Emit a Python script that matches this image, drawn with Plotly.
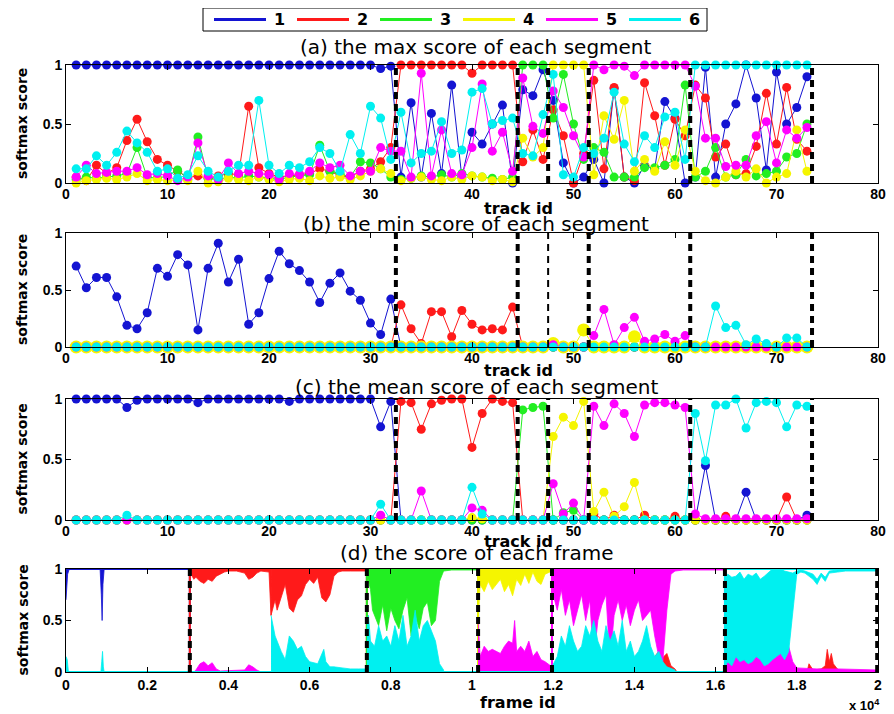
import plotly.graph_objects as go

# ---------------- data ----------------
COLORS = ['#1414d2', '#ff1a1a', '#22ee22', '#f5f500', '#ff00ff', '#00f0f0']
NAMES = ['1', '2', '3', '4', '5', '6']
TRACKS = list(range(1, 74))
TRACK_BOUNDS = [32.5, 44.5, 47.5, 51.5, 61.5, 73.5]
FRAME_BOUNDS = [0.305, 0.741, 1.015, 1.197, 1.623, 1.998]   # x 10^4
SEG_START = [0.0, 0.305, 0.741, 1.015, 1.197, 1.623]
SEG_END = [0.305, 0.741, 1.015, 1.197, 1.623, 1.998]

# (a) max score of each segment
MAX_1 = [1.0]*30 + [0.97, 0.99,
         0.05, 0.68, 0.05, 0.59, 0.08, 0.83, 0.05, 0.43, 0.33, 0.5, 0.66, 0.0,
         0.79, 0.74, 0.96, 0.7, 0.17, 0.0, 0.05,
         0.2, 0.0, 0.8, 0.05, 0.0, 0.15, 0.12, 0.69, 0.55, 0.0,
         0.05, 0.98, 0.05, 0.5, 0.67, 1.0, 0.72, 0.11, 0.94, 0.5, 0.64, 0.9]
MAX_2 = [0.05, 0.02, 0.15, 0.08, 0.13, 0.36, 0.54, 0.35, 0.2, 0.15, 0.1, 0.05, 0.06, 0.04, 0.06, 0.08,
         0.07, 0.65, 0.13, 0.08, 0.05, 0.06, 0.07, 0.08, 0.12, 0.1, 0.06, 0.05, 0.1, 0.12, 0.18, 0.3,
         1, 1, 1, 1, 1, 1, 1, 0.93, 1, 1, 1, 1,
         0.18, 0.45, 0.2, 0.62, 0.4, 0.0, 0.25,
         0.87, 0.12, 0.81, 0.05, 0.02, 0.85, 0.57, 0.15, 0.54, 0.4,
         0.83, 0.72, 0.22, 0.33, 0.07, 0.08, 0.31, 0.76, 0.33, 0.81, 0.37, 0.27]
MAX_3 = [0.03, 0.05, 0.04, 0.05, 0.06, 0.08, 0.3, 0.05, 0.04, 0.06, 0.11, 0.03, 0.39, 0.04, 0.03, 0.05,
         0.04, 0.06, 0.05, 0.04, 0.03, 0.05, 0.06, 0.07, 0.32, 0.1, 0.08, 0.05, 0.18, 0.17, 0.12, 0.05,
         0.03, 0.04, 0.06, 0.05, 0.07, 0.05, 0.08, 0.06, 0.05, 0.04, 0.03, 0.05,
         1, 1, 1, 0.55, 0.92, 0.5, 0.2,
         0.3, 0.26, 0.05, 0.05, 0.05, 0.13, 0.13, 0.15, 0.2, 0.83,
         0.05, 0.1, 0.3, 0.05, 0.07, 0.2, 0.06, 0.08, 0.1, 0.22, 0.25, 0.5]
MAX_4 = [0.0, 0.02, 0.03, 0.04, 0.03, 0.05, 0.08, 0.02, 0.03, 0.02, 0.03, 0.02, 0.1, 0.0, 0.01, 0.04,
         0.03, 0.02, 0.05, 0.03, 0.01, 0.03, 0.04, 0.02, 0.06, 0.04, 0.05, 0.03, 0.06, 0.1, 0.12, 0.08,
         0.02, 0.04, 0.05, 0.03, 0.02, 0.05, 0.03, 0.06, 0.05, 0.02, 0.03, 0.01,
         0.38, 0.22, 0.3, 1, 1, 1, 1,
         0.07, 0.57, 0.37, 0.7, 0.1, 0.2, 0.1, 0.35, 0.15, 0.45,
         0.1, 0.02, 0.0, 0.05, 0.1, 0.05, 0.12, 0.0, 0.05, 0.08, 0.45, 0.1]
MAX_5 = [0.05, 0.15, 0.08, 0.09, 0.1, 0.1, 0.13, 0.07, 0.08, 0.06, 0.02, 0.05, 0.34, 0.06, 0.03, 0.17,
         0.08, 0.1, 0.08, 0.07, 0.03, 0.08, 0.07, 0.1, 0.17, 0.13, 0.15, 0.06, 0.1, 0.1, 0.3, 0.27,
         0.27, 0.05, 0.93, 0.06, 0.45, 0.08, 0.07, 0.3, 0.84, 0.27, 0.43, 0.1,
         0.89, 0.48, 0.42, 0.78, 0.64, 0.4, 0.22,
         1, 0.96, 1, 0.99, 0.91, 1, 1, 1, 1, 1,
         0.82, 0.38, 0.38, 0.14, 0.15, 0.15, 0.4, 0.52, 0.17, 0.45, 0.38, 0.47]
MAX_6 = [0.12, 0.12, 0.23, 0.15, 0.26, 0.44, 0.34, 0.26, 0.1, 0.12, 0.04, 0.07, 0.23, 0.1, 0.05, 0.1,
         0.15, 0.15, 0.7, 0.15, 0.08, 0.15, 0.13, 0.18, 0.3, 0.25, 0.1, 0.41, 0.25, 0.65, 0.55, 0.2,
         0.6, 0.17, 0.25, 0.27, 0.52, 0.25, 0.28, 0.77, 0.8, 0.5, 0.53, 0.55,
         0.25, 0.23, 0.58, 0.92, 0.07, 0.05, 0.3,
         0.25, 0.38, 0.77, 0.33, 0.18, 0.4, 0.3, 0.56, 0.6, 0.2,
         1, 1, 1, 1, 1, 1, 1, 1, 1, 1, 1, 1]

# (b) min score of each segment
MIN_1 = [0.71, 0.52, 0.61, 0.61, 0.44, 0.19, 0.16, 0.3, 0.69, 0.62, 0.81, 0.72, 0.15, 0.69, 0.91, 0.57,
         0.77, 0.2, 0.3, 0.6, 0.84, 0.73, 0.67, 0.57, 0.39, 0.56, 0.65, 0.49, 0.41, 0.21, 0.11, 0.42] + [0.0]*41
MIN_2 = [0.0]*32 + [0.37, 0.16, 0.03, 0.31, 0.31, 0.09, 0.32, 0.2, 0.15, 0.16, 0.15, 0.35] + [0.0]*29
MIN_3 = [0.0]*73
MIN_4 = [0.0]*47 + [0.03, 0.0, 0.0, 0.15, 0.0, 0.0, 0.0, 0.0, 0.09] + [0.0]*17
MIN_5 = [0.0]*47 + [0.02, 0.0, 0.0, 0.0, 0.1, 0.33, 0.02, 0.17, 0.26, 0.05, 0.07, 0.11, 0.05, 0.1] + [0.0]*12
MIN_6 = [0.0]*63 + [0.36, 0.17, 0.19, 0.02, 0.07, 0.03, 0.0, 0.08, 0.08, 0.0]

# (c) mean score of each segment
MEAN_1 = [1, 1, 1, 1, 1, 0.93, 0.99, 1, 1, 1, 1, 1, 0.97, 1, 1, 1, 1, 1, 1, 1, 1, 0.98, 1, 1, 1, 1,
          1, 1, 1, 1, 0.77, 0.98] + [0.0]*30 + [0.45, 0.0, 0.0, 0.0, 0.23, 0.0, 0.0, 0.0, 0.0, 0.0, 0.04]
MEAN_2 = [0.0]*32 + [0.98, 0.97, 0.75, 0.96, 0.99, 1, 1, 0.6, 0.88, 1, 0.98, 0.97] + \
         [0.0]*7 + [0.05, 0.0, 0.04, 0.0, 0.0, 0.04, 0.0, 0.0, 0.03, 0.0, 0.0, 0.0, 0.0, 0.03,
                    0.0, 0.0, 0.0, 0.0, 0.0, 0.19, 0.0, 0.0]
MEAN_3 = [0.0]*44 + [0.91, 0.93, 0.94, 0.0, 0.06, 0.08] + [0.0]*23
MEAN_4 = [0.0]*39 + [0.02, 0.01] + [0.0]*6 + [0.69, 0.85, 0.78, 0.98, 0.07, 0.23, 0.03, 0.11, 0.31] + [0.0]*17
MEAN_5 = [0.0]*30 + [0.04, 0.0, 0.0, 0.0, 0.24, 0.0, 0.0, 0.0, 0.0, 0.1, 0.08, 0.0, 0.0, 0.0,
                     0.0, 0.0, 0.0, 0.3, 0.05, 0.14, 0.0,
                     0.94, 0.78, 0.96, 0.88, 0.69, 0.95, 0.97, 0.97, 0.95, 0.93,
                     0.05, 0.01, 0.01, 0.01, 0.01, 0.01, 0.01, 0.01, 0.01, 0.01, 0.01, 0.01]
MEAN_6 = [0.0]*5 + [0.04] + [0.0]*24 + [0.13, 0.0] + [0.0]*7 + [0.27, 0.05] + [0.0]*20 + \
         [0.88, 0.49, 0.95, 0.95, 1.0, 0.76, 0.97, 0.98, 0.97, 0.77, 0.95, 0.94]

# (d) frame-level score envelopes (frame id in units of 10^4)
# "top" bands: series fills from LO up to 1 ; "bottom" bands: fills from 0 up to HI
D1_TOP_X = [0.0, 0.004, 0.008, 0.084, 0.087, 0.089, 0.091, 0.094]
D1_TOP_LO = [0.7, 0.95, 1.0, 1.0, 0.75, 0.5, 0.85, 1.0]

D2_TOP_A_X = [0.305, 0.315, 0.32, 0.33, 0.34, 0.35, 0.36, 0.37, 0.38, 0.39, 0.40, 0.42, 0.44, 0.45,
              0.46, 0.47, 0.48, 0.50, 0.505]
D2_TOP_A_LO = [0.97, 0.9, 0.92, 0.88, 0.86, 0.9, 0.88, 0.93, 0.95, 0.97, 0.98, 0.98, 0.96, 0.9,
               0.92, 0.96, 0.98, 0.97, 0.55]
D2_TOP_B_X = [0.505, 0.51, 0.515, 0.52, 0.53, 0.54, 0.55, 0.56, 0.57, 0.58, 0.59, 0.60, 0.61, 0.62,
              0.63, 0.64, 0.65, 0.66, 0.67, 0.68, 0.70, 0.72, 0.741]
D2_TOP_B_LO = [0.55, 0.62, 0.7, 0.6, 0.72, 0.85, 0.62, 0.58, 0.7, 0.74, 0.85, 0.9, 0.86, 0.92,
               0.72, 0.68, 0.75, 0.93, 0.97, 0.98, 0.98, 0.98, 0.98]
D2_BOT_A_X = [1.435, 1.44, 1.45, 1.46, 1.465, 1.47, 1.48, 1.49, 1.50, 1.505]
D2_BOT_A_HI = [0.0, 0.05, 0.15, 0.2, 0.1, 0.14, 0.18, 0.06, 0.03, 0.0]
D2_BOT_B_X = [1.825, 1.83, 1.84, 1.86, 1.87, 1.875, 1.88, 1.885, 1.89, 1.90, 1.91]
D2_BOT_B_HI = [0.0, 0.08, 0.02, 0.03, 0.06, 0.22, 0.1, 0.18, 0.08, 0.03, 0.0]

D3_TOP_X = [0.741, 0.75, 0.755, 0.76, 0.77, 0.78, 0.79, 0.80, 0.81, 0.82, 0.83, 0.84, 0.85, 0.86,
            0.87, 0.88, 0.89, 0.90, 0.91, 0.92, 0.93, 0.95, 1.015]
D3_TOP_LO = [0.95, 0.8, 0.6, 0.55, 0.45, 0.65, 0.4, 0.62, 0.5, 0.42, 0.6, 0.72, 0.35, 0.55,
             0.42, 0.62, 0.68, 0.45, 0.5, 0.88, 0.98, 0.99, 0.99]

D4_TOP_X = [1.015, 1.02, 1.03, 1.04, 1.05, 1.06, 1.07, 1.08, 1.09, 1.10, 1.11, 1.12, 1.13, 1.14,
            1.15, 1.16, 1.17, 1.18, 1.197]
D4_TOP_LO = [0.5, 0.85, 0.78, 0.88, 0.8, 0.85, 0.9, 0.78, 0.85, 0.74, 0.9, 0.84, 0.95, 0.86,
             0.97, 0.88, 0.85, 0.95, 0.98]
D4_BOT_X = [0.775, 0.78, 0.785, 0.79, 0.80]
D4_BOT_HI = [0.0, 0.15, 0.08, 0.12, 0.0]

D5_BOT_A_X = [0.315, 0.32, 0.33, 0.34, 0.35, 0.36, 0.37, 0.38, 0.44, 0.45, 0.46, 0.47, 0.48]
D5_BOT_A_HI = [0.0, 0.02, 0.08, 0.1, 0.06, 0.09, 0.03, 0.01, 0.02, 0.07, 0.05, 0.02, 0.0]
D5_BOT_B_X = [1.015, 1.02, 1.03, 1.04, 1.05, 1.06, 1.07, 1.08, 1.09, 1.10, 1.105, 1.11, 1.12, 1.13,
              1.14, 1.15, 1.16, 1.17, 1.18, 1.197]
D5_BOT_B_HI = [0.5, 0.15, 0.25, 0.2, 0.22, 0.2, 0.18, 0.25, 0.3, 0.28, 0.5, 0.2, 0.25, 0.2,
               0.3, 0.15, 0.2, 0.12, 0.1, 0.05]
D5_TOP_X = [1.197, 1.20, 1.21, 1.22, 1.23, 1.24, 1.25, 1.26, 1.27, 1.28, 1.29, 1.30, 1.31, 1.32,
            1.33, 1.34, 1.35, 1.36, 1.37, 1.38, 1.39, 1.40, 1.41, 1.42, 1.43, 1.44, 1.45, 1.46,
            1.47, 1.48, 1.49, 1.50, 1.52, 1.623]
D5_TOP_LO = [0.97, 0.75, 0.6, 0.8, 0.55, 0.7, 0.45, 0.6, 0.75, 0.5, 0.7, 0.12, 0.5, 0.65,
             0.75, 0.1, 0.55, 0.7, 0.5, 0.65, 0.45, 0.6, 0.7, 0.5, 0.55, 0.6, 0.35, 0.15,
             0.1, 0.6, 0.95, 0.98, 0.99, 0.99]
D5_BOT_C_X = [1.623, 1.63, 1.64, 1.65, 1.66, 1.67, 1.68, 1.69, 1.70, 1.71, 1.72, 1.73, 1.74, 1.75,
              1.76, 1.77, 1.78, 1.79, 1.80, 1.85, 1.90, 1.998]
D5_BOT_C_HI = [0.2, 0.25, 0.12, 0.3, 0.22, 0.15, 0.18, 0.12, 0.2, 0.25, 0.15, 0.1, 0.18, 0.2,
               0.28, 0.22, 0.25, 0.1, 0.04, 0.03, 0.03, 0.02]

D6_BOT_A_X = [0.0, 0.003, 0.006, 0.086, 0.088, 0.09, 0.092, 0.094]
D6_BOT_A_HI = [0.15, 0.12, 0.0, 0.0, 0.1, 0.2, 0.05, 0.0]
D6_BOT_B_X = [0.505, 0.51, 0.515, 0.52, 0.53, 0.54, 0.55, 0.56, 0.57, 0.58, 0.59, 0.60, 0.62,
              0.635, 0.64, 0.65, 0.66, 0.68, 0.70, 0.72, 0.741]
D6_BOT_B_HI = [0.55, 0.45, 0.35, 0.3, 0.2, 0.12, 0.35, 0.3, 0.22, 0.25, 0.15, 0.1, 0.08,
               0.22, 0.1, 0.05, 0.05, 0.04, 0.03, 0.03, 0.03]
D6_BOT_C_X = [0.741, 0.745, 0.75, 0.76, 0.77, 0.78, 0.79, 0.80, 0.81, 0.82, 0.83, 0.84, 0.85,
              0.86, 0.87, 0.88, 0.89, 0.90, 0.91, 0.92, 0.93]
D6_BOT_C_HI = [0.5, 0.55, 0.3, 0.25, 0.45, 0.3, 0.35, 0.25, 0.45, 0.3, 0.55, 0.25, 0.35,
               0.6, 0.3, 0.45, 0.5, 0.4, 0.3, 0.08, 0.02]
D6_BOT_D_X = [1.197, 1.21, 1.22, 1.23, 1.24, 1.25, 1.26, 1.27, 1.28, 1.29, 1.30, 1.31, 1.32, 1.33,
              1.34, 1.35, 1.36, 1.37, 1.38, 1.39, 1.40, 1.41, 1.42, 1.43, 1.44, 1.45, 1.46, 1.47,
              1.48, 1.50]
D6_BOT_D_HI = [0.05, 0.15, 0.35, 0.25, 0.45, 0.3, 0.2, 0.25, 0.45, 0.35, 0.5, 0.3, 0.2, 0.45,
               0.3, 0.4, 0.25, 0.5, 0.2, 0.3, 0.15, 0.2, 0.3, 0.45, 0.25, 0.15, 0.2, 0.1,
               0.05, 0.02]
D6_MID_X = [1.623, 1.63, 1.64, 1.65, 1.66, 1.67, 1.68, 1.69, 1.70, 1.71, 1.72, 1.73, 1.74, 1.75,
            1.76, 1.77, 1.78, 1.79, 1.80, 1.81, 1.82, 1.84, 1.85, 1.86, 1.87, 1.88, 1.90, 1.92,
            1.95, 1.998]
D6_MID_LO = [0.05, 0.1, 0.06, 0.15, 0.1, 0.12, 0.08, 0.1, 0.15, 0.12, 0.06, 0.08, 0.12, 0.15,
             0.18, 0.12, 0.2, 0.55, 0.95, 0.97, 0.96, 0.9, 0.85, 0.93, 0.88, 0.96, 0.97, 0.98,
             0.98, 0.98]
D6_MID_HI = [0.9, 0.95, 0.92, 0.93, 0.97, 0.9, 0.95, 0.93, 0.96, 0.9, 0.93, 0.97, 1, 1,
             1, 0.98, 0.97, 0.96, 0.98, 0.99, 0.98, 0.95, 0.9, 0.96, 0.92, 0.98, 0.99, 1,
             1, 1]

MAX_SERIES = [MAX_1, MAX_2, MAX_3, MAX_4, MAX_5, MAX_6]
MIN_SERIES = [MIN_1, MIN_2, MIN_3, MIN_4, MIN_5, MIN_6]
MEAN_SERIES = [MEAN_1, MEAN_2, MEAN_3, MEAN_4, MEAN_5, MEAN_6]

TOP_BANDS = {0: [(D1_TOP_X, D1_TOP_LO)],
             1: [(D2_TOP_A_X, D2_TOP_A_LO), (D2_TOP_B_X, D2_TOP_B_LO)],
             2: [(D3_TOP_X, D3_TOP_LO)],
             3: [(D4_TOP_X, D4_TOP_LO)],
             4: [(D5_TOP_X, D5_TOP_LO)],
             5: []}
BOT_BANDS = {0: [],
             1: [(D2_BOT_A_X, D2_BOT_A_HI), (D2_BOT_B_X, D2_BOT_B_HI)],
             2: [],
             3: [(D4_BOT_X, D4_BOT_HI)],
             4: [(D5_BOT_A_X, D5_BOT_A_HI), (D5_BOT_B_X, D5_BOT_B_HI), (D5_BOT_C_X, D5_BOT_C_HI)],
             5: [(D6_BOT_A_X, D6_BOT_A_HI), (D6_BOT_B_X, D6_BOT_B_HI), (D6_BOT_C_X, D6_BOT_C_HI),
                 (D6_BOT_D_X, D6_BOT_D_HI)]}
MID_BANDS = {5: [(D6_MID_X, D6_MID_LO, D6_MID_HI)]}

# ---------------- layout helpers ----------------
# the page adds an 8 px body margin; figure is sized so it fills the 894x714 window
OFF = 8
W, H = 894 - OFF, 714 - OFF
SCR_LEFT, SCR_RIGHT = 66, 878          # plot area in window pixels
ML = SCR_LEFT - OFF
MR = W - (SCR_RIGHT - OFF)
PW = W - ML - MR


def py(p):
    """window pixel row -> paper y"""
    return (H - (p - OFF)) / H


def px(p):
    """window pixel column -> paper x"""
    return ((p - OFF) - ML) / PW


PANELS = [(65, 183), (233, 347), (399, 520), (569, 672)]
FONT = 'Liberation Sans'
TFONT = 'DejaVu Sans'

fig = go.Figure()

axes_names = [('x', 'y'), ('x2', 'y2'), ('x3', 'y3'), ('x4', 'y4')]
marker_sizes = [[9] * 6, [9, 9, 9, 13, 9, 9], [9] * 6]
for pi, series in enumerate([MAX_SERIES, MIN_SERIES, MEAN_SERIES]):
    xa, ya = axes_names[pi]
    for si, vals in enumerate(series):
        fig.add_trace(go.Scatter(
            x=TRACKS, y=vals, mode='lines+markers', xaxis=xa, yaxis=ya, name=NAMES[si],
            line=dict(color=COLORS[si], width=1),
            marker=dict(color=COLORS[si], size=marker_sizes[pi][si], line=dict(width=0)),
            showlegend=False, cliponaxis=False, hoverinfo='skip'))

# panel (d)
for si in range(6):
    bx, by = [], []
    for k in range(6):
        v = 1.0 if k == si else 0.0
        bx += [SEG_START[k], SEG_END[k]]
        by += [v, v]
    fig.add_trace(go.Scatter(x=bx, y=by, mode='lines', xaxis='x4', yaxis='y4',
                             line=dict(color=COLORS[si], width=2), showlegend=False,
                             cliponaxis=False, hoverinfo='skip'))
    for xs, lo in TOP_BANDS.get(si, []):
        fig.add_trace(go.Scatter(x=list(xs) + list(xs)[::-1], y=list(lo) + [1.0] * len(xs),
                                 mode='lines', fill='toself', fillcolor=COLORS[si],
                                 line=dict(color=COLORS[si], width=0.8), xaxis='x4', yaxis='y4',
                                 showlegend=False, hoverinfo='skip'))
    for xs, hi in BOT_BANDS.get(si, []):
        fig.add_trace(go.Scatter(x=list(xs) + list(xs)[::-1], y=list(hi) + [0.0] * len(xs),
                                 mode='lines', fill='toself', fillcolor=COLORS[si],
                                 line=dict(color=COLORS[si], width=0.8), xaxis='x4', yaxis='y4',
                                 showlegend=False, hoverinfo='skip'))
    for xs, lo, hi in MID_BANDS.get(si, []):
        fig.add_trace(go.Scatter(x=list(xs) + list(xs)[::-1], y=list(hi) + list(lo)[::-1],
                                 mode='lines', fill='toself', fillcolor=COLORS[si],
                                 line=dict(color=COLORS[si], width=0.8), xaxis='x4', yaxis='y4',
                                 showlegend=False, hoverinfo='skip'))

axis_common = dict(showline=True, linecolor='black', linewidth=1, mirror='allticks',
                   ticks='inside', ticklen=5, tickcolor='black', showgrid=False, zeroline=False,
                   tickfont=dict(family=FONT, size=14, color='black', weight='bold'))

layout = dict(width=W, height=H, margin=dict(l=ML, r=MR, t=0, b=0, autoexpand=False),
              paper_bgcolor='white', plot_bgcolor='white', showlegend=False,
              font=dict(family=FONT, color='black'))
for pi, (top, bot) in enumerate(PANELS):
    xa = 'xaxis' if pi == 0 else f'xaxis{pi + 1}'
    ya = 'yaxis' if pi == 0 else f'yaxis{pi + 1}'
    anchor_x = 'y' if pi == 0 else f'y{pi + 1}'
    anchor_y = 'x' if pi == 0 else f'x{pi + 1}'
    if pi < 3:
        layout[xa] = dict(axis_common, range=[0, 80], tickvals=list(range(0, 81, 10)),
                          anchor=anchor_x, domain=[0, 1], ticklabelstandoff=-2)
    else:
        layout[xa] = dict(axis_common, range=[0, 2], tickvals=[i / 5 for i in range(11)],
                          ticktext=['0', '0.2', '0.4', '0.6', '0.8', '1', '1.2', '1.4', '1.6', '1.8', '2'],
                          anchor=anchor_x, domain=[0, 1], ticklabelstandoff=0)
    layout[ya] = dict(axis_common, range=[0, 1], tickvals=[0, 0.5, 1], ticktext=['0', '0.5', '1'],
                      anchor=anchor_y, domain=[py(bot), py(top)])

fig.update_layout(**layout)

shapes = []
for pi in range(3):
    xr = 'x' if pi == 0 else f'x{pi + 1}'
    yr = 'y' if pi == 0 else f'y{pi + 1}'
    for b in TRACK_BOUNDS:
        w = 2 if (pi == 1 and b == 47.5) else 4
        shapes.append(dict(type='line', xref=xr, yref=yr, x0=b, x1=b, y0=0, y1=1,
                           line=dict(color='black', width=w, dash='7px,5px'), layer='above'))
for b in FRAME_BOUNDS:
    shapes.append(dict(type='line', xref='x4', yref='y4', x0=b, x1=b, y0=0, y1=1,
                       line=dict(color='black', width=4, dash='7px,5px'), layer='above'))

ann = []
# legend box (drawn by hand to match the reference position)
LEG_L, LEG_R, LEG_T, LEG_B = 203, 707, 8, 31
shapes.append(dict(type='rect', xref='paper', yref='paper', x0=px(LEG_L), x1=px(LEG_R),
                   y0=py(LEG_B), y1=py(LEG_T), line=dict(color='black', width=1),
                   fillcolor='white', layer='above'))
for si in range(6):
    x0 = 214 + 83 * si
    ym = (LEG_T + LEG_B) / 2
    shapes.append(dict(type='line', xref='paper', yref='paper', x0=px(x0), x1=px(x0 + 52),
                       y0=py(ym), y1=py(ym), line=dict(color=COLORS[si], width=3), layer='above'))
    ann.append(dict(text=NAMES[si], x=px(x0 + 58), y=py(ym), xref='paper', yref='paper',
                    showarrow=False, xanchor='left', yanchor='middle',
                    font=dict(family=TFONT, size=16, color='black', weight='bold')))
fig.update_layout(shapes=shapes)

titles = ['(a) the max score of each segment', '(b) the min score of each segment',
          '(c) the mean score of each segment', '(d) the score of each frame']
title_y = [47, 224, 387, 553]
xlab_y = [208, 371, 541, 702]
xlabs = ['track id', 'track id', 'track id', 'frame id']
for pi in range(4):
    ann.append(dict(text=titles[pi], x=px(476), y=py(title_y[pi]), xref='paper', yref='paper',
                    showarrow=False, xanchor='center', yanchor='middle',
                    font=dict(family=TFONT, size=20, color='black')))
    ann.append(dict(text=xlabs[pi], x=px(518), y=py(xlab_y[pi]), xref='paper', yref='paper',
                    showarrow=False, xanchor='center', yanchor='middle',
                    font=dict(family=TFONT, size=16, color='black', weight='bold')))
    top, bot = PANELS[pi]
    ann.append(dict(text='softmax score', x=px(22), y=py((top + bot) / 2), xref='paper', yref='paper',
                    showarrow=False, xanchor='center', yanchor='middle', textangle=-90,
                    font=dict(family=TFONT, size=14, color='black', weight='bold')))
ann.append(dict(text='x 10<sup>4</sup>', x=px(882), y=py(705), xref='paper', yref='paper',
                showarrow=False, xanchor='right', yanchor='middle',
                font=dict(family=FONT, size=13, color='black', weight='bold')))
fig.update_layout(annotations=ann)

fig.write_html('out.html')
